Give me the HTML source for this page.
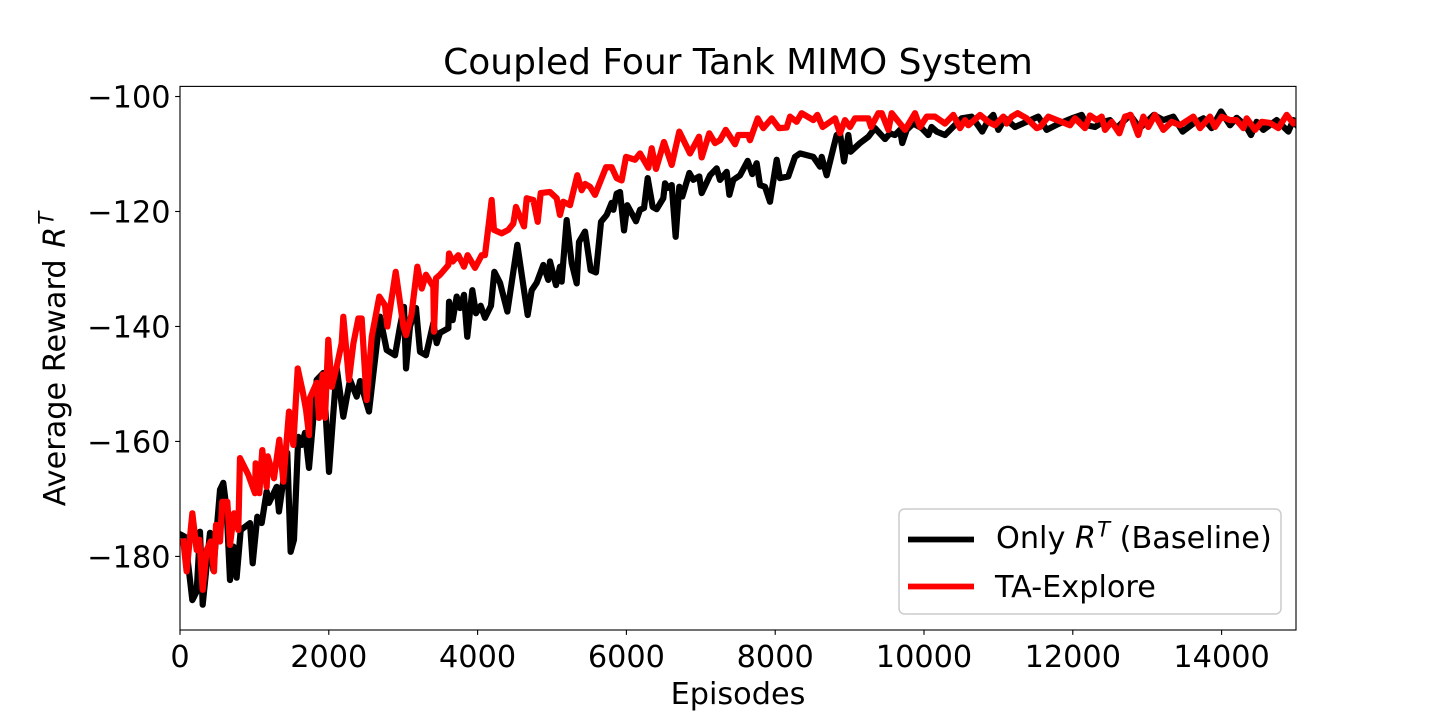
<!DOCTYPE html>
<html>
<head>
<meta charset="utf-8">
<title>Coupled Four Tank MIMO System</title>
<style>
html,body{margin:0;padding:0;background:#fff;width:1440px;height:720px;overflow:hidden}
svg{display:block}
text{font-family:"DejaVu Sans",sans-serif;fill:#000}
</style>
</head>
<body>
<svg id="chart" xmlns="http://www.w3.org/2000/svg" width="1440" height="720" viewBox="0 0 1440 720">
<defs><clipPath id="plot-clip"><rect x="180" y="86.4" width="1116" height="543.6"/></clipPath></defs>
<rect x="0" y="0" width="1440" height="720" fill="#fff"/>
<rect x="180" y="86.4" width="1116" height="543.6" fill="#fff"/>
<g id="series-layer" clip-path="url(#plot-clip)"></g>
<rect x="180" y="86.4" width="1116" height="543.6" fill="none" stroke="#000" stroke-width="1.11"/>
<g id="x-axis"></g>
<g id="y-axis"></g>
<text x="738" y="74" font-size="36" text-anchor="middle">Coupled Four Tank MIMO System</text>
<text x="738" y="704" font-size="30.3" text-anchor="middle">Episodes</text>
<text transform="translate(65,359) rotate(-90)" font-size="30.3" text-anchor="middle">Average Reward <tspan font-style="italic" dx="2">R</tspan><tspan font-style="italic" font-size="21.2" dy="-11.5" dx="2">T</tspan></text>
<g>
<rect x="899" y="509" width="382" height="105" rx="5.5" ry="5.5" fill="#fff" fill-opacity="0.8" stroke="#ccc" stroke-width="1.5"/>
<line x1="908" y1="539.5" x2="974" y2="539.5" stroke="#000" stroke-width="5.8"/>
<text x="996" y="548" font-size="30.3">Only <tspan font-style="italic">R</tspan><tspan font-style="italic" font-size="21.2" dy="-11.5" dx="1">T</tspan><tspan dy="11.5"> (Baseline)</tspan></text>
<line x1="908" y1="586.5" x2="974" y2="586.5" stroke="#f00" stroke-width="5.8"/>
<text x="995" y="597" font-size="30.3">TA-Explore</text>
</g>
</svg>
<script>
var xTicks = [0, 2000, 4000, 6000, 8000, 10000, 12000, 14000];
var yTicks = [-100, -120, -140, -160, -180];
var xDomain = [0, 15000];
var yDomain = [-192.8, -98.24];

var baselineEpisodes = [23,67,166,224,269,305,403,448,538,582,627,672,717,761,816,941,977,1039,1098,1165,1196,1299,1330,1442,1487,1532,1590,1636,1680,1734,1837,1926,2003,2106,2195,2285,2375,2420,2540,2688,2778,2890,2957,3011,3038,3091,3172,3226,3306,3405,3450,3495,3607,3616,3665,3719,3763,3817,3861,3929,3978,4041,4099,4180,4225,4301,4400,4534,4673,4727,4794,4883,4950,4973,5054,5107,5130,5197,5265,5332,5363,5444,5520,5591,5659,5735,5802,5825,5869,5914,5968,6012,6129,6183,6237,6286,6353,6407,6496,6519,6559,6609,6662,6711,6751,6846,6899,6980,7012,7124,7213,7258,7348,7384,7437,7527,7630,7692,7751,7796,7863,7930,8020,8064,8176,8266,8333,8512,8602,8625,8692,8781,8826,8871,8925,8983,9014,9140,9252,9341,9476,9543,9610,9677,9708,9767,9857,9968,10058,10102,10170,10282,10390,10506,10641,10708,10783,10864,10931,10999,11089,11223,11380,11536,11649,11800,12007,12119,12188,12298,12410,12500,12590,12770,12900,13090,13217,13351,13477,13620,13755,13866,13992,14113,14202,14320,14395,14471,14561,14740,14897,14964,15000];
var baselineRewards = [-176.3,-176.6,-187.6,-186.1,-175.7,-188.4,-175.9,-182.4,-168.4,-167.2,-171.9,-184.1,-178.3,-183.7,-175.4,-174.2,-181.2,-173.1,-174.2,-168.7,-170.7,-167.9,-172.2,-162,-179.2,-177.1,-159.2,-160.6,-158.5,-164.6,-149.3,-148.1,-165.3,-147.2,-155.7,-149.3,-152.2,-149.5,-154.8,-138.3,-144.1,-145,-140,-136.6,-147.3,-140,-136.8,-144.4,-145,-139.4,-142.9,-141.1,-140.3,-135.7,-138.9,-134.8,-136.8,-134.5,-141.8,-133.7,-137.7,-136.4,-138.5,-136.4,-130.5,-132.4,-137.4,-125.8,-138,-133.7,-132.4,-129.3,-131.9,-128.7,-132.8,-129.6,-132.2,-121.5,-129,-132.5,-125.3,-123.5,-130.2,-130.6,-121.8,-120.6,-118.5,-119.7,-116.9,-116.6,-123.3,-118.9,-121.7,-119.7,-119.4,-114.2,-119.2,-119.6,-117.7,-115.1,-115.9,-115.4,-124.4,-115.7,-117.4,-113.3,-114.5,-113.9,-116.8,-113.7,-112.5,-114.5,-113.1,-117.1,-114.5,-113.7,-111.2,-113.5,-111.6,-115.4,-115.7,-118.3,-111,-114.2,-113.9,-110.5,-109.9,-110.5,-112.2,-110.5,-113.7,-109,-106.7,-106.4,-111.3,-106.7,-109.6,-108.1,-107,-105.5,-107.4,-106.4,-106.7,-105.8,-108.1,-105.8,-104.7,-105.5,-106.7,-105.3,-106.1,-106.7,-105.3,-103.8,-103.5,-104.7,-106.1,-104.1,-103.2,-105.8,-103.8,-105.3,-104.4,-103.5,-105.8,-104.8,-103.7,-103.2,-105,-105.3,-104.4,-104.1,-105.5,-103.2,-105.5,-103.2,-104.1,-103.5,-106.1,-104.7,-103.8,-105.5,-102.6,-105,-103.7,-105,-106.7,-104.4,-105.8,-104.1,-106.1,-104.1,-104.8];

var exploreEpisodes = [45,89,166,224,260,305,358,412,457,484,538,568,636,672,726,784,806,918,1008,1017,1066,1106,1165,1179,1263,1335,1389,1465,1523,1582,1649,1694,1734,1747,1837,1868,1917,1949,1993,2039,2106,2173,2195,2271,2330,2397,2442,2509,2577,2679,2755,2787,2899,3003,3038,3110,3190,3249,3306,3405,3414,3441,3495,3607,3616,3665,3741,3817,3866,3965,4055,4099,4189,4220,4323,4413,4480,4516,4624,4660,4749,4808,4848,4973,5063,5107,5152,5242,5340,5399,5444,5511,5578,5726,5802,5869,5936,5995,6116,6183,6295,6340,6398,6505,6609,6711,6855,6976,7012,7114,7191,7258,7335,7460,7504,7639,7661,7765,7840,7953,8051,8154,8199,8288,8355,8512,8566,8638,8804,8871,8938,9005,9073,9252,9288,9387,9432,9521,9566,9745,9879,9946,10036,10148,10282,10394,10484,10551,10596,10753,10864,10954,11066,11111,11178,11259,11380,11515,11559,11671,11962,12030,12164,12231,12321,12388,12433,12522,12625,12702,12778,12880,12948,13015,13105,13217,13329,13441,13620,13710,13844,13911,14001,14113,14200,14292,14337,14449,14539,14650,14763,14875,14964,15000];
var exploreRewards = [-177.4,-182.6,-172.5,-178.9,-177.1,-185.8,-178.9,-177.4,-182.6,-174.5,-177.4,-170.5,-170.5,-178,-172.5,-175.4,-162.9,-165.8,-169,-163.8,-169,-161.5,-167.9,-162.6,-166.4,-159.7,-167,-154.8,-160.6,-147.3,-151.3,-154.5,-158.9,-152.4,-149.8,-155.9,-148.4,-155.9,-142.3,-150.5,-147,-142.9,-138.3,-149.3,-143,-138.6,-138.6,-152.8,-141.8,-134.8,-136.3,-140,-130.5,-140,-141.5,-138,-129.6,-133.4,-131,-133.1,-140.9,-131.6,-131,-129.3,-127.3,-128.7,-127.6,-129.6,-127.6,-129.8,-127.6,-127.6,-118,-123.2,-123.8,-123.2,-122.1,-119.2,-122.6,-117.7,-118,-121.8,-116.8,-116.6,-117.7,-120.6,-118.3,-118.9,-113.7,-116.3,-115.2,-115.7,-117.1,-112.3,-112.3,-114.2,-114.6,-110.5,-111,-109.9,-112.4,-109,-112.6,-107.9,-111.9,-106.1,-109.9,-107,-110.6,-106.4,-108.1,-107.6,-105.8,-108.3,-106.7,-106.7,-107.6,-103.8,-105.5,-103.8,-105.5,-105.4,-103.5,-104.4,-102.9,-104.1,-103.2,-105.3,-103.8,-106.4,-104.1,-105.3,-103.8,-103.8,-105.3,-102.9,-102.9,-105.8,-102.9,-105.8,-102.9,-105.3,-103.5,-103.5,-104.7,-103.2,-105.5,-104.1,-105,-103.2,-104.4,-105,-103.5,-104.7,-103.5,-102.9,-103.8,-105.5,-105.3,-103.5,-105,-103.8,-105.5,-103.3,-104.1,-103.5,-105.8,-104.4,-106.4,-103.5,-103.2,-106.7,-103.5,-105.3,-103.2,-105.8,-104.4,-105,-103.5,-105.5,-103.5,-105.3,-103.5,-104.1,-104.1,-105.5,-103.8,-105.8,-104.4,-104.6,-105.5,-103.2,-104.7,-104.4];

var SVG_NS = 'http://www.w3.org/2000/svg';
var plotLeft = 180, plotRight = 1296, plotTop = 86.4, plotBottom = 630;

function xScale(v) {
  return plotLeft + (v - xDomain[0]) / (xDomain[1] - xDomain[0]) * (plotRight - plotLeft);
}
function yScale(v) {
  return plotBottom - (v - yDomain[0]) / (yDomain[1] - yDomain[0]) * (plotBottom - plotTop);
}
function make(tag, attrs) {
  var el = document.createElementNS(SVG_NS, tag);
  for (var k in attrs) el.setAttribute(k, attrs[k]);
  return el;
}
function linePath(xs, ys) {
  var d = '';
  var n = Math.min(xs.length, ys.length);
  for (var i = 0; i < n; i++) {
    d += (i ? 'L' : 'M') + xScale(xs[i]).toFixed(2) + ' ' + yScale(ys[i]).toFixed(2);
  }
  return d;
}
function minusLabel(v) {
  return v < 0 ? '\u2212' + Math.abs(v) : String(v);
}

var seriesLayer = document.getElementById('series-layer');

var baselineLine = make('path', {d: linePath(baselineEpisodes, baselineRewards), fill: 'none', stroke: '#000', 'stroke-width': 6.2, 'stroke-linejoin': 'round', 'stroke-linecap': 'square'});


seriesLayer.appendChild(baselineLine);

var exploreLine = make('path', {d: linePath(exploreEpisodes, exploreRewards), fill: 'none', stroke: '#f00', 'stroke-width': 6.2, 'stroke-linejoin': 'round', 'stroke-linecap': 'square'});


seriesLayer.appendChild(exploreLine);

var xAxis = document.getElementById('x-axis');
xTicks.forEach(function (t) {
  var px = xScale(t);
  var mark = make('line', {x1: px, x2: px, y1: plotBottom, y2: plotBottom + 4.86, stroke: '#000', 'stroke-width': 1.11});
  
  
  xAxis.appendChild(mark);
  var label = make('text', {x: px, y: 667, 'font-size': 30.3, 'text-anchor': 'middle'});
  
  
  label.textContent = String(t);
  xAxis.appendChild(label);
});

var yAxis = document.getElementById('y-axis');
yTicks.forEach(function (t) {
  var py = yScale(t);
  var mark = make('line', {x1: plotLeft - 4.86, x2: plotLeft, y1: py, y2: py, stroke: '#000', 'stroke-width': 1.11});
  
  
  yAxis.appendChild(mark);
  var label = make('text', {x: 170.5, y: py + 11, 'font-size': 30.3, 'text-anchor': 'end'});
  
  
  label.textContent = minusLabel(t);
  yAxis.appendChild(label);
});
</script>
</body>
</html>
